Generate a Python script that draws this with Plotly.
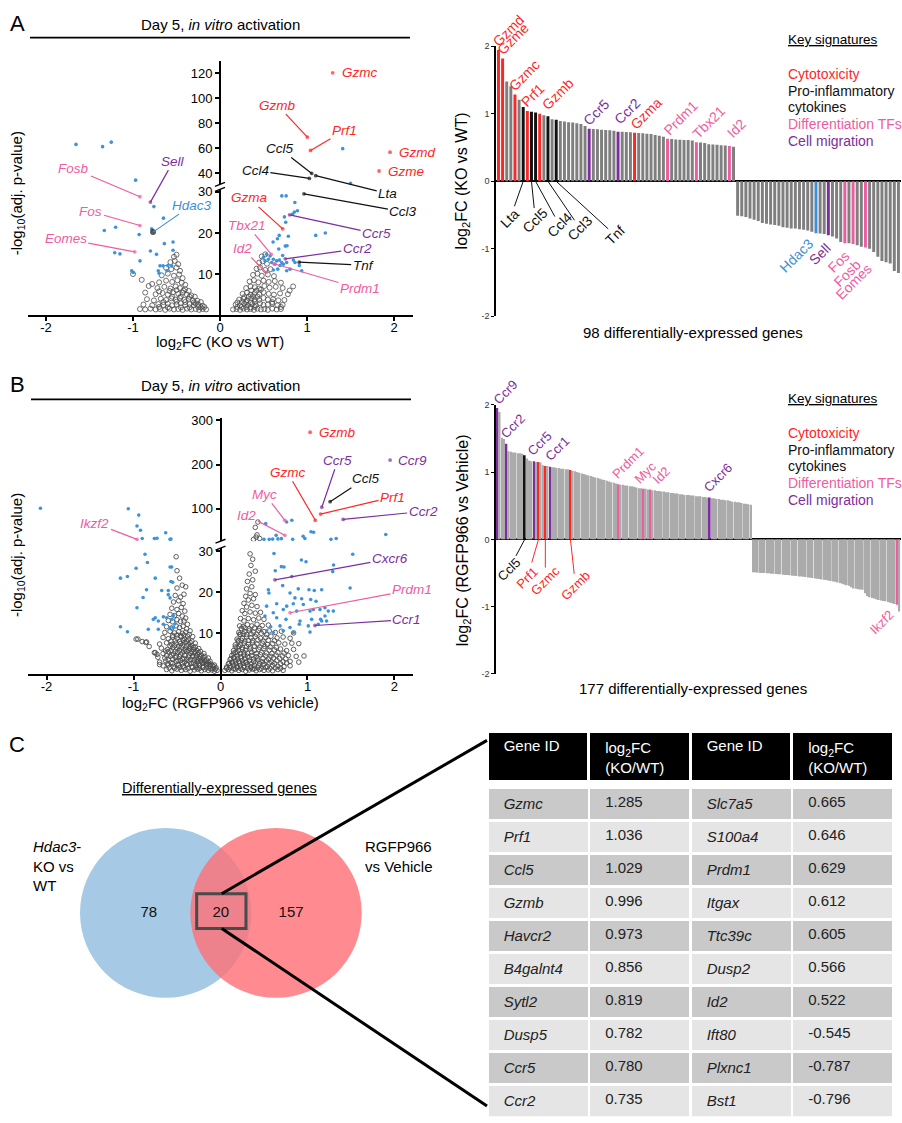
import plotly.graph_objects as go

W, H = 902, 1123
FONT = "Liberation Sans, Arial, Helvetica, sans-serif"

RED = "#ff2626"
PINK = "#ee5d9f"
PURPLE = "#7c2e9e"
BLUE = "#3f8fd6"
BLACK = "#111111"
SIG = "#3c93dc"
NS = "#4d4d4d"
CAT_COLOR = {"cyto": RED, "inflam": BLACK, "diff": PINK, "migr": PURPLE, "hdac": BLUE}

# ======================= DATA =======================
# ---- Panel A volcano (log2FC KO vs WT, -log10 adj p) ----
a_ns_x = [-0.92, -0.86, -0.80, -0.74, -0.69, -0.63, -0.58, -0.53, -0.48, -0.43, -0.38, -0.33, -0.28, -0.24, -0.20, -0.16,
          -0.88, -0.78, -0.71, -0.65, -0.60, -0.55, -0.50, -0.45, -0.40, -0.35, -0.30, -0.25, -0.20,
          -0.84, -0.76, -0.68, -0.62, -0.56, -0.51, -0.46, -0.41, -0.36, -0.31, -0.26, -0.22,
          -0.86, -0.74, -0.66, -0.60, -0.54, -0.48, -0.43, -0.38, -0.33, -0.29,
          -0.82, -0.72, -0.64, -0.57, -0.51, -0.46, -0.40, -0.36,
          -0.90, -0.70, -0.62, -0.55, -0.49, -0.44, -0.40,
          -1.00, -0.67, -0.60, -0.53, -0.47, -0.43,
          -0.62, -0.56, -0.50, -0.46,
          -0.57, -0.52, -0.48,
          -0.53, -0.50,
          -0.45, -0.35, -0.25, -0.30, -0.40, -0.50, -0.35, -0.45, -0.55, -0.28, -0.22, -0.18, -0.65, -0.70, -0.60,
          -0.42, -0.50, -0.58, -0.70, -0.78,
          0.15, 0.19, 0.23, 0.27, 0.31, 0.35, 0.39, 0.43, 0.47, 0.51, 0.55, 0.60, 0.65, 0.70,
          0.18, 0.23, 0.28, 0.32, 0.37, 0.41, 0.46, 0.50, 0.55, 0.60, 0.66, 0.72,
          0.22, 0.27, 0.31, 0.36, 0.40, 0.45, 0.50, 0.55, 0.61, 0.67, 0.74,
          0.26, 0.31, 0.35, 0.40, 0.45, 0.50, 0.56, 0.62, 0.69, 0.78,
          0.30, 0.35, 0.40, 0.45, 0.51, 0.57, 0.64, 0.72, 0.84,
          0.34, 0.39, 0.44, 0.50, 0.56, 0.63, 0.70,
          0.38, 0.43, 0.48, 0.55, 0.62,
          0.42, 0.46, 0.52, 0.58,
          0.45, 0.49, 0.54,
          0.48, 0.52,
          0.20, 0.25, 0.30, 0.35, 0.40, 0.30, 0.35, 0.25, 0.20, 0.40, 0.33, 0.38, 0.28, 0.43, 0.36, 0.42,
          0.47, 0.60, 0.70, 0.80]
a_ns_y = [1.5, 1.4, 1.6, 1.4, 1.5, 1.3, 1.6, 1.4, 1.5, 1.3, 1.6, 1.4, 1.5, 1.3, 1.5, 1.4,
          2.6, 2.4, 2.7, 2.5, 2.8, 2.4, 2.6, 2.9, 2.5, 2.7, 2.4, 2.6, 2.3,
          3.9, 3.6, 4.0, 3.7, 4.1, 3.8, 4.2, 3.7, 4.0, 3.6, 3.5, 3.2,
          5.5, 5.1, 5.4, 5.0, 5.6, 5.2, 5.5, 5.0, 4.8, 4.5,
          7.1, 6.6, 6.9, 6.5, 7.0, 6.6, 6.3, 5.9,
          8.6, 8.0, 8.4, 8.1, 8.5, 7.9, 7.4,
          10.0, 9.7, 10.1, 9.6, 9.9, 9.0,
          11.5, 11.2, 11.6, 10.8,
          12.9, 13.2, 12.4,
          14.2, 14.7,
          1.9, 1.9, 2.0, 3.1, 3.2, 3.3, 4.5, 4.6, 4.5, 2.9, 1.9, 2.0, 3.2, 2.0, 1.9,
          6.0, 6.1, 5.9, 5.8, 7.6,
          1.4, 1.5, 1.3, 1.6, 1.4, 1.5, 1.3, 1.6, 1.4, 1.5, 1.3, 1.6, 1.4, 1.5,
          2.6, 2.4, 2.8, 2.5, 2.7, 2.4, 2.9, 2.5, 2.6, 2.8, 2.4, 2.5,
          3.8, 4.0, 3.6, 4.1, 3.9, 3.7, 4.2, 3.8, 3.9, 3.6, 3.7,
          5.2, 5.5, 5.0, 5.4, 5.1, 5.6, 5.2, 5.0, 5.3, 5.1,
          6.6, 7.0, 6.8, 6.5, 7.1, 6.7, 6.9, 6.6, 7.0,
          8.2, 8.5, 8.0, 8.4, 8.1, 8.3, 7.9,
          9.8, 10.1, 9.6, 9.9, 9.5,
          11.3, 11.6, 11.0, 11.2,
          12.8, 13.1, 12.5,
          14.3, 14.8,
          2.0, 2.0, 2.0, 1.9, 2.0, 3.2, 3.1, 3.2, 3.1, 3.3, 4.5, 4.6, 4.4, 4.5, 6.0, 6.0,
          6.2, 3.2, 2.0, 6.0]

a_sig_x = [-1.655, -1.35, -1.25, -0.97, -0.76, -0.65, -0.785, -1.33, -1.20, -0.93, -0.64, -0.54, -0.54, -1.21, -1.15,
           -0.80, -0.73, -0.92, -0.69, -0.655, -0.60, -0.555, -1.015, -0.996, -0.71, -0.70, -0.61,
           1.41, 1.50, 0.71, 0.76, 0.86, 0.89, 0.855, 0.835, 0.74, 0.755, 0.68, 0.785, 1.21, 1.10, 0.61, 0.66, 0.75,
           0.77, 0.675, 0.536, 0.575, 0.498, 0.556, 0.517, 0.613, 0.651, 0.709, 0.728, 0.766, 0.843, 0.862, 0.912,
           0.939, 0.805, 0.766, 0.663, 0.613, 0.632, 0.69, 0.594, 0.72, 0.682]
a_sig_y = [63.2, 61.4, 65.0, 34.6, 26.4, 23.6, 21.0, 20.6, 21.4, 19.6, 17.4, 17.8, 15.8, 15.2, 14.9,
           15.6, 14.8, 13.2, 12.0, 12.0, 12.1, 12.0, 10.8, 10.4, 10.8, 10.2, 10.8,
           59.8, 32.0, 29.0, 29.0, 27.4, 25.4, 25.1, 24.6, 23.9, 22.6, 19.4, 19.2, 20.0, 19.4, 17.8, 18.6, 16.8,
           16.9, 16.1, 14.8, 14.4, 14.0, 13.6, 13.2, 13.6, 13.2, 12.8, 12.4, 12.8, 13.4, 12.8, 12.1,
           10.8, 11.2, 10.8, 11.2, 11.0, 12.4, 12.1, 12.8, 14.5, 13.4]

a_hl_gene = ["Gzmc", "Gzmb", "Prf1", "Gzmd", "Gzme", "Ccl5", "Ccl4", "Lta", "Ccl3", "Gzma", "Ccr5",
             "Tbx21", "Ccr2", "Id2", "Tnf", "Prdm1", "Fosb", "Sell", "Hdac3", "Fos", "Eomes"]
a_hl_x = [1.295, 1.004, 1.04, 1.954, 1.828, 1.054, 1.027, 1.10, 0.965, 0.72, 0.80,
          0.59, 0.75, 0.53, 0.91, 0.62, -0.92, -0.80, -0.77, -0.92, -0.98]
a_hl_y = [120.5, 69.0, 58.4, 57.0, 41.9, 40.0, 36.0, 38.2, 29.5, 21.0, 24.4,
          14.8, 13.7, 10.4, 12.9, 12.5, 28.8, 27.5, 20.2, 21.8, 15.4]
a_hl_cat = ["cyto", "cyto", "cyto", "cyto", "cyto", "inflam", "inflam", "inflam", "inflam", "cyto", "migr",
            "diff", "migr", "diff", "inflam", "diff", "diff", "migr", "hdac", "diff", "diff"]

# ---- Panel A bars (98 DE genes, log2FC KO vs WT) ----
a_bar_values = [1.95, 1.82, 1.48, 1.41, 1.285, 1.21, 1.10, 1.04, 1.03, 1.02, 1.00, 0.98, 0.965, 0.92, 0.91,
                0.895, 0.885, 0.875, 0.87, 0.86, 0.85, 0.82, 0.78, 0.775, 0.77, 0.765, 0.76, 0.755, 0.75,
                0.735, 0.735, 0.73, 0.725, 0.72, 0.715, 0.71, 0.705, 0.70, 0.685, 0.675, 0.66, 0.629, 0.625,
                0.62, 0.615, 0.612, 0.61, 0.605, 0.58, 0.575, 0.566, 0.55, 0.545, 0.54, 0.535, 0.53, 0.522, 0.51,
                -0.51, -0.52, -0.53, -0.55, -0.57, -0.59, -0.62, -0.63, -0.64, -0.65,
                -0.66, -0.68, -0.69, -0.70, -0.70, -0.71, -0.72, -0.73, -0.75, -0.77,
                -0.775, -0.78, -0.80, -0.82, -0.85, -0.90, -0.92, -0.92, -0.93, -0.95,
                -0.97, -0.98, -1.00, -1.05, -1.12, -1.18, -1.20, -1.22, -1.33, -1.36]
a_bar_label_idx = [0, 1, 4, 6, 7, 8, 9, 10, 12, 14, 22, 29, 33, 41, 48, 56, 77, 80, 84, 86, 89]
a_bar_label_gene = ["Gzmd", "Gzme", "Gzmc", "Lta", "Prf1", "Ccl5", "Ccl4", "Gzmb", "Ccl3", "Tnf", "Ccr5",
                    "Ccr2", "Gzma", "Prdm1", "Tbx21", "Id2", "Hdac3", "Sell", "Fos", "Fosb", "Eomes"]
a_bar_label_cat = ["cyto", "cyto", "cyto", "inflam", "cyto", "inflam", "inflam", "cyto", "inflam", "inflam", "migr",
                   "migr", "cyto", "diff", "diff", "diff", "hdac", "migr", "diff", "diff", "diff"]

# ---- Panel B volcano (log2FC RGFP966 vs vehicle) ----
b_ns_x = [-0.62, -0.56, -0.50, -0.45, -0.40, -0.35, -0.30, -0.26, -0.22, -0.18, -0.14, -0.10, -0.07, -0.04,
          -0.66, -0.60, -0.54, -0.48, -0.43, -0.38, -0.33, -0.28, -0.24, -0.20, -0.16, -0.12, -0.08, -0.05,
          -0.70, -0.63, -0.57, -0.51, -0.46, -0.41, -0.36, -0.31, -0.27, -0.23, -0.19, -0.15, -0.11, -0.07,
          -0.72, -0.64, -0.58, -0.52, -0.47, -0.42, -0.37, -0.32, -0.28, -0.24, -0.20, -0.16, -0.12,
          -0.76, -0.66, -0.60, -0.54, -0.49, -0.44, -0.39, -0.34, -0.30, -0.26, -0.22, -0.18, -0.14,
          -0.68, -0.61, -0.55, -0.50, -0.45, -0.40, -0.35, -0.31, -0.27, -0.23, -0.19,
          -0.86, -0.70, -0.62, -0.56, -0.51, -0.46, -0.41, -0.37, -0.33, -0.29, -0.25,
          -0.95, -0.66, -0.60, -0.55, -0.50, -0.45, -0.41, -0.37, -0.33, -0.29,
          -0.64, -0.58, -0.53, -0.48, -0.44, -0.40, -0.36, -0.32,
          -0.62, -0.56, -0.51, -0.47, -0.43, -0.39, -0.35,
          -0.60, -0.55, -0.50, -0.46, -0.42, -0.38,
          -0.58, -0.53, -0.48, -0.44, -0.40,
          -0.56, -0.50, -0.45, -0.41,
          -0.54, -0.48, -0.43,
          -0.52, -0.46, -0.42,
          -0.50, -0.44, -0.40,
          -0.47, -0.50, -0.51,
          -0.97, -0.90, -0.85, -0.75, -0.73, -0.82, -0.70,
          0.05, 0.09, 0.13, 0.17, 0.21, 0.25, 0.29, 0.33, 0.37, 0.41, 0.45, 0.50, 0.55, 0.60, 0.66, 0.72,
          0.07, 0.11, 0.15, 0.19, 0.23, 0.27, 0.31, 0.35, 0.39, 0.44, 0.49, 0.54, 0.60, 0.66, 0.73, 0.80,
          0.09, 0.13, 0.17, 0.21, 0.25, 0.29, 0.33, 0.38, 0.43, 0.48, 0.53, 0.59, 0.65, 0.72, 0.80, 0.90,
          0.11, 0.15, 0.19, 0.23, 0.27, 0.31, 0.36, 0.41, 0.46, 0.52, 0.58, 0.64, 0.71, 0.78, 0.87, 0.96,
          0.13, 0.17, 0.21, 0.25, 0.29, 0.34, 0.39, 0.44, 0.50, 0.56, 0.62, 0.69, 0.76, 0.84,
          0.15, 0.19, 0.23, 0.27, 0.32, 0.37, 0.42, 0.48, 0.54, 0.60, 0.67, 0.74, 0.82, 0.90,
          0.17, 0.21, 0.25, 0.30, 0.35, 0.40, 0.46, 0.52, 0.58, 0.65, 0.72, 0.80,
          0.19, 0.23, 0.28, 0.33, 0.38, 0.44, 0.50, 0.56, 0.63, 0.70, 0.84,
          0.21, 0.26, 0.31, 0.36, 0.42, 0.48, 0.55,
          0.22, 0.27, 0.32, 0.38, 0.44, 0.50,
          0.23, 0.28, 0.34, 0.40, 0.46,
          0.25, 0.30, 0.36, 0.42,
          0.27, 0.32, 0.38,
          0.29, 0.34, 0.40,
          0.30, 0.36,
          0.31, 0.37,
          0.33, 0.40,
          0.35, 0.37, 0.34,
          0.42, 0.41, 0.45, 0.38, 0.43, 0.40]
b_ns_y = [1.2, 0.9, 1.3, 1.0, 1.2, 0.8, 1.1, 1.3, 0.9, 1.2, 1.0, 1.1, 0.8, 1.0,
          2.1, 2.3, 1.9, 2.2, 2.0, 2.4, 1.9, 2.2, 2.1, 1.8, 2.3, 2.0, 1.9, 1.6,
          3.0, 3.3, 2.9, 3.2, 3.4, 3.0, 3.3, 2.8, 3.1, 3.2, 2.9, 2.7, 2.5, 2.3,
          4.2, 4.0, 4.4, 4.1, 4.3, 3.9, 4.2, 4.4, 4.0, 3.9, 3.7, 3.5, 3.2,
          5.3, 5.1, 5.5, 5.0, 5.4, 5.2, 5.6, 5.1, 5.3, 4.9, 4.7, 4.4, 4.0,
          6.4, 6.1, 6.5, 6.2, 6.6, 6.0, 6.3, 6.1, 5.8, 5.6, 5.1,
          7.8, 7.4, 7.7, 7.3, 7.6, 7.5, 7.8, 7.2, 7.0, 6.7, 6.3,
          8.6, 9.0, 8.7, 9.1, 8.8, 9.2, 8.6, 8.4, 8.1, 7.6,
          10.2, 10.5, 10.1, 10.4, 10.0, 10.3, 9.7, 9.2,
          11.6, 11.3, 11.8, 11.4, 11.7, 11.1, 10.6,
          13.1, 12.8, 13.3, 12.9, 13.0, 12.2,
          14.6, 14.3, 14.8, 14.2, 13.7,
          16.1, 15.8, 16.3, 15.4,
          17.6, 17.9, 17.2,
          19.2, 18.8, 19.5,
          21.0, 21.7, 21.3,
          23.4, 25.2, 28.6,
          8.6, 8.0, 7.9, 5.3, 4.9, 6.8, 2.4,
          1.0, 1.2, 0.9, 1.3, 1.0, 1.2, 0.8, 1.1, 1.3, 0.9, 1.2, 1.0, 1.1, 0.9, 1.2, 1.0,
          1.8, 2.1, 2.3, 1.9, 2.2, 2.0, 2.4, 1.9, 2.2, 2.1, 2.3, 1.9, 2.2, 2.0, 1.9, 2.1,
          2.6, 3.0, 3.3, 3.1, 3.4, 3.0, 3.3, 3.2, 3.5, 3.1, 3.3, 3.0, 3.4, 3.1, 3.2, 3.0,
          3.6, 4.1, 4.5, 4.3, 4.7, 4.4, 4.6, 4.3, 4.8, 4.5, 4.4, 4.7, 4.5, 4.6, 4.4, 4.5,
          4.6, 5.3, 5.8, 6.1, 5.9, 6.2, 5.8, 6.1, 6.3, 5.9, 6.0, 6.2, 5.8, 6.1,
          5.8, 6.6, 7.2, 7.6, 7.3, 7.7, 7.4, 7.6, 7.3, 7.5, 7.7, 7.4, 7.6, 7.5,
          7.2, 8.1, 8.8, 9.1, 8.9, 9.2, 8.8, 9.0, 9.3, 8.9, 9.1, 8.8,
          8.6, 9.7, 10.4, 10.6, 10.3, 10.7, 10.4, 10.6, 10.2, 10.5, 10.1,
          10.2, 11.6, 12.1, 11.8, 12.2, 11.9, 12.0,
          11.8, 13.0, 13.6, 13.3, 13.7, 13.4,
          13.6, 14.8, 15.2, 14.9, 15.1,
          15.5, 16.4, 16.8, 16.5,
          17.3, 18.1, 18.4,
          19.0, 19.7, 19.4,
          20.8, 21.3,
          22.6, 23.0,
          24.4, 25.1,
          26.5, 28.0, 29.3,
          41.0, 36.0, 33.0, 31.0, 70.0, 58.0]
# extra points in the dense cores of the two B clouds
b_core_x = [-0.59, -0.53, -0.47, -0.42, -0.37, -0.32, -0.28, -0.24, -0.20, -0.16, -0.12, -0.09, -0.06,
            -0.61, -0.55, -0.49, -0.44, -0.39, -0.34, -0.29, -0.25, -0.21, -0.17, -0.13, -0.09,
            -0.60, -0.55, -0.49, -0.44, -0.39, -0.34, -0.30, -0.26, -0.22, -0.18, -0.14,
            -0.62, -0.56, -0.51, -0.46, -0.41, -0.36, -0.32, -0.28, -0.24, -0.20,
            -0.63, -0.57, -0.52, -0.47, -0.42, -0.37, -0.33, -0.29, -0.25,
            -0.58, -0.53, -0.48, -0.43, -0.39, -0.35, -0.31,
            -0.57, -0.52, -0.47, -0.43, -0.39, -0.35,
            -0.55, -0.50, -0.46, -0.42, -0.38,
            0.07, 0.11, 0.15, 0.19, 0.23, 0.27, 0.31, 0.35, 0.39, 0.43, 0.47, 0.52, 0.57, 0.63, 0.69,
            0.10, 0.14, 0.18, 0.22, 0.26, 0.30, 0.35, 0.40, 0.45, 0.50, 0.56, 0.62, 0.69, 0.76,
            0.12, 0.16, 0.20, 0.24, 0.28, 0.33, 0.38, 0.43, 0.49, 0.55, 0.61, 0.68, 0.75,
            0.15, 0.19, 0.23, 0.27, 0.31, 0.36, 0.41, 0.47, 0.53, 0.59, 0.66, 0.73,
            0.17, 0.21, 0.25, 0.30, 0.34, 0.39, 0.45, 0.51, 0.57, 0.64,
            0.20, 0.24, 0.28, 0.32, 0.37, 0.43, 0.49, 0.55, 0.62,
            0.22, 0.26, 0.30, 0.35, 0.41, 0.47, 0.53,
            0.24, 0.28, 0.33, 0.39, 0.45]
b_core_y = [1.6, 1.5, 1.7, 1.6, 1.5, 1.7, 1.6, 1.5, 1.7, 1.6, 1.4, 1.5, 1.3,
            2.6, 2.7, 2.5, 2.8, 2.6, 2.7, 2.5, 2.6, 2.8, 2.5, 2.4, 2.2,
            3.6, 3.7, 3.5, 3.8, 3.6, 3.7, 3.5, 3.6, 3.4, 3.3, 3.0,
            4.6, 4.7, 4.5, 4.8, 4.6, 4.7, 4.5, 4.6, 4.4, 4.2,
            5.7, 5.8, 5.6, 5.9, 5.7, 5.8, 5.6, 5.5, 5.3,
            6.9, 7.0, 6.8, 7.1, 6.9, 6.8, 6.6,
            8.1, 8.2, 8.0, 8.3, 8.1, 7.8,
            9.5, 9.6, 9.4, 9.6, 9.3,
            1.5, 1.6, 1.4, 1.6, 1.5, 1.7, 1.5, 1.6, 1.4, 1.6, 1.5, 1.7, 1.5, 1.6, 1.5,
            2.7, 2.8, 2.6, 2.8, 2.7, 2.9, 2.6, 2.8, 2.7, 2.6, 2.8, 2.7, 2.6, 2.8,
            3.9, 4.0, 3.8, 4.0, 3.9, 4.1, 3.8, 4.0, 3.9, 3.8, 4.0, 3.9, 3.8,
            5.2, 5.3, 5.1, 5.3, 5.2, 5.4, 5.1, 5.3, 5.2, 5.1, 5.3, 5.2,
            6.7, 6.8, 6.6, 6.8, 6.7, 6.9, 6.6, 6.8, 6.7, 6.6,
            8.2, 8.3, 8.1, 8.3, 8.2, 8.4, 8.1, 8.3, 8.2,
            9.8, 9.9, 9.7, 9.9, 9.8, 10.0, 9.7,
            11.2, 11.3, 11.1, 11.3, 11.2]

b_sig_x = [-2.07, -1.06, -0.94, -0.96, -0.92, -0.90, -0.76, -0.73, -0.63, -0.58, -0.57,
           0.52, 0.64, 0.76, 0.82, 0.50, 0.56, 0.60, 0.66, 0.70, 0.83, 0.95, 0.97, 1.04, 1.07, 1.27, 1.33, 1.90,
           0.615, 0.70, 0.73, 0.63, 0.82, 0.715, 0.93, 0.983, 1.30, 1.29, 1.52, 1.49, 0.55, 0.557,
           0.894, 1.017, 1.078, 1.163, 0.799, 0.856, 0.933, 1.037, 1.098, 0.646, 0.761, 0.837, 0.952, 1.067,
           1.201, 1.297, 0.607, 0.722, 0.876, 1.029, 1.144, 1.239, 0.511, 0.646, 0.753, 0.914, 1.048, 1.151,
           1.201, 0.577, 0.684, 0.799, 0.906, 1.009, 1.124, 1.163, 1.22, 0.531, 0.607, 0.722, 0.837, 1.029, 0.53,
           -0.868, -0.84, -0.97, -1.15, -1.07, -0.75, -0.58, -0.561, -0.57, -0.55, -0.85, -0.676, -0.60, -0.89,
           -0.60, -0.58, -0.96, -0.75, -0.772, -0.715, -0.657, -0.618, -0.561, -0.542, -0.523, -0.58, -0.542,
           -0.657, -0.715, -0.83, -1.15, -1.07]
b_sig_y = [101.3, 100.0, 85.7, 61.0, 51.4, 32.8, 32.8, 33.5, 46.0, 31.0, 31.5,
           66.4, 40.0, 70.0, 74.0, 31.0, 31.0, 31.5, 32.0, 32.5, 31.0, 38.0, 33.0, 48.0, 47.0, 31.0, 33.0, 42.0,
           29.4, 26.2, 26.1, 25.2, 23.8, 21.6, 27.8, 27.4, 26.6, 25.0, 29.2, 21.0, 20.6, 19.8,
           20.8, 20.6, 20.4, 20.6, 19.8, 18.6, 18.4, 18.2, 17.8, 17.2, 16.6, 17.2, 17.0, 15.8,
           16.2, 15.4, 15.0, 15.8, 15.4, 15.4, 15.8, 15.4, 14.2, 13.8, 13.4, 13.0, 13.4, 13.4,
           14.2, 11.6, 11.8, 11.4, 12.2, 11.8, 12.2, 13.0, 13.0, 10.6, 10.2, 10.6, 10.2, 10.3, 16.6,
           29.2, 27.2, 25.8, 23.4, 23.8, 23.4, 26.1, 26.1, 22.6, 22.4, 20.6, 20.4, 20.4, 18.7,
           19.4, 18.6, 16.2, 13.8, 13.4, 13.0, 14.0, 13.8, 13.4, 14.3, 12.3, 11.4, 11.4,
           12.2, 11.0, 11.0, 11.6, 10.4]

b_hl_gene = ["Gzmb", "Ccr9", "Ccr5", "Ccl5", "Gzmc", "Prf1", "Ccr2", "Myc", "Id2", "Ikzf2", "Cxcr6", "Prdm1", "Ccr1"]
b_hl_x = [1.03, 1.95, 1.165, 1.26, 1.09, 1.15, 1.41, 0.74, 0.74, -0.96, 0.626, 0.80, 1.086]
b_hl_y = [273.0, 210.0, 103.6, 116.0, 74.0, 88.0, 76.0, 74.0, 40.0, 31.0, 23.0, 15.0, 11.9]
b_hl_cat = ["cyto", "migr", "migr", "inflam", "cyto", "cyto", "migr", "diff", "diff", "diff", "migr", "diff", "migr"]

# ---- Panel B bars (177 DE genes, log2FC RGFP966 vs vehicle) ----
b_bar_values = [1.95, 1.89, 1.51, 1.49, 1.42, 1.31, 1.30, 1.29, 1.29, 1.28, 1.28, 1.27, 1.25, 1.20, 1.17,
                1.16, 1.16, 1.15, 1.15, 1.14, 1.10, 1.09, 1.09, 1.08, 1.07, 1.07, 1.06, 1.06, 1.05, 1.05,
                1.04, 1.04, 1.03, 1.02, 1.01, 1.00, 0.99, 0.98, 0.97, 0.96, 0.95, 0.94, 0.93, 0.92, 0.91,
                0.90, 0.89, 0.88, 0.87, 0.86, 0.85, 0.84, 0.83, 0.82, 0.81, 0.81, 0.80, 0.80, 0.79, 0.79,
                0.78, 0.77, 0.76, 0.76, 0.75, 0.75, 0.74, 0.74, 0.73, 0.73, 0.72, 0.72, 0.71, 0.71, 0.70,
                0.70, 0.69, 0.69, 0.68, 0.68, 0.67, 0.67, 0.66, 0.66, 0.66, 0.65, 0.65, 0.64, 0.64, 0.64,
                0.63, 0.63, 0.62, 0.62, 0.61, 0.61, 0.60, 0.60, 0.59, 0.59, 0.58, 0.58, 0.57, 0.56, 0.56,
                0.55, 0.55, 0.54, 0.53, 0.53, 0.52, 0.515,
                -0.49, -0.49, -0.495, -0.50, -0.50, -0.50, -0.505, -0.505, -0.51, -0.51, -0.515, -0.52, -0.52,
                -0.525, -0.53, -0.53, -0.535, -0.54, -0.54, -0.545, -0.55, -0.55, -0.555, -0.56, -0.565, -0.57,
                -0.575, -0.58, -0.585, -0.59, -0.595, -0.60, -0.605, -0.61, -0.62, -0.625, -0.63, -0.64, -0.65,
                -0.66, -0.67, -0.68, -0.69, -0.71, -0.73, -0.735, -0.74, -0.745, -0.75, -0.80, -0.84, -0.86,
                -0.87, -0.88, -0.89, -0.90, -0.91, -0.915, -0.92, -0.93, -0.94, -0.95, -0.96, -0.97, -1.07]
b_bar_label_idx = [0, 4, 12, 16, 18, 21, 23, 32, 53, 64, 67, 93, 175]
b_bar_label_gene = ["Ccr9", "Ccr2", "Ccl5", "Ccr5", "Prf1", "Gzmc", "Ccr1", "Gzmb", "Prdm1", "Myc", "Id2", "Cxcr6", "Ikzf2"]
b_bar_label_cat = ["migr", "migr", "inflam", "migr", "cyto", "cyto", "migr", "cyto", "diff", "diff", "diff", "migr", "diff"]

# ---- Panel C ----
venn_counts = [78, 20, 157]
tbl_gene_l = ["Gzmc", "Prf1", "Ccl5", "Gzmb", "Havcr2", "B4galnt4", "Sytl2", "Dusp5", "Ccr5", "Ccr2"]
tbl_fc_l = [1.285, 1.036, 1.029, 0.996, 0.973, 0.856, 0.819, 0.782, 0.780, 0.735]
tbl_gene_r = ["Slc7a5", "S100a4", "Prdm1", "Itgax", "Ttc39c", "Dusp2", "Id2", "Ift80", "Plxnc1", "Bst1"]
tbl_fc_r = [0.665, 0.646, 0.629, 0.612, 0.605, 0.566, 0.522, -0.545, -0.787, -0.796]

legend_items = [("Cytotoxicity", "cyto"), ("Pro-inflammatory", "inflam"), ("cytokines", "inflam"),
                ("Differentiation TFs", "diff"), ("Cell migration", "migr")]

# ======================= LABEL LAYOUT (styling) =======================
a_vlab = {"Gzmc": ("side", 7, 0), "Gzmb": ("arrow", -30, -32), "Prf1": ("arrow", 34, -20),
          "Gzmd": ("side", 7, 0), "Gzme": ("side", 7, 0), "Ccl5": ("arrow", -32, -25),
          "Ccl4": ("arrow", -54, -8), "Lta": ("arrow", 72, 18), "Ccl3": ("arrow", 99, 18),
          "Gzma": ("arrow", -34, -31), "Ccr5": ("arrow", 87, 19), "Tbx21": ("arrow", -24, -29),
          "Ccr2": ("arrow", 72, -10), "Id2": ("arrow", -24, -24), "Tnf": ("arrow", 64, 3),
          "Prdm1": ("arrow", 86, 25), "Fosb": ("arrow", -66, -28), "Sell": ("arrow", 23, -41),
          "Hdac3": ("arrow", 39, -27), "Fos": ("arrow", -49, -14), "Eomes": ("arrow", -69, -13)}
b_vlab = {"Gzmb": ("side", 7, 0), "Ccr9": ("side", 6, 0), "Ccr5": ("arrow", 16, -47),
          "Ccl5": ("arrow", 35, -23), "Gzmc": ("arrow", -28, -48), "Prf1": ("arrow", 72, -17),
          "Ccr2": ("arrow", 80, -8), "Myc": ("arrow", -20, -26), "Id2": ("arrow", -38, -20),
          "Ikzf2": ("arrow", -42, -16), "Cxcr6": ("arrow", 115, -21), "Prdm1": ("arrow", 122, -23),
          "Ccr1": ("arrow", 92, -6)}
a_blab = {"Gzmd": ("up", 0, -3), "Gzme": ("up", 0, -2), "Gzmc": ("up", 0, -2), "Prf1": ("up", 0, -2),
          "Gzmb": ("up", 8, -2), "Ccr5": ("up", 0, -2), "Ccr2": ("up", 2, 2), "Gzma": ("up", 2, -2),
          "Prdm1": ("up", 2, -2), "Tbx21": ("up", 2, -2), "Id2": ("up", 4, 2),
          "Lta": ("lead", -13, 37), "Ccl5": ("lead", 4, 39), "Ccl4": ("lead", 24, 44),
          "Ccl3": ("lead", 32, 47), "Tnf": ("lead", 59, 54),
          "Hdac3": ("down", 4, 1), "Sell": ("down", 8, -2), "Fos": ("down", 10, -2),
          "Fosb": ("down", 14, -10), "Eomes": ("down", 13, -10)}
b_blab = {"Ccr9": ("up", 2, -2), "Ccr2": ("up", 0, 0), "Ccr5": ("up", 0, 0), "Ccr1": ("up", 2, 0),
          "Prdm1": ("up", 0, 0), "Myc": ("up", -3, 0), "Id2": ("up", 8, 0), "Cxcr6": ("up", 0, 0),
          "Ccl5": ("lead", -16, 30), "Prf1": ("lead", -11, 38), "Gzmc": ("lead", 0, 41),
          "Gzmb": ("lead", 5, 46), "Ikzf2": ("down", 2, 0)}


def PX(p):
    return p / W


def PY(p):
    return 1 - p / H


fig = go.Figure()
annotations = []
shapes = []


def volcano(xa, ylo, yhi, split, ns_x, ns_y, sig_x, sig_y, g, hx, hy, hc, lab, ns_size, ns_lw):
    for yname, up in ((ylo, False), (yhi, True)):
        sel = [i for i, v in enumerate(ns_y) if (v > split) == up]
        fig.add_trace(go.Scatter(x=[ns_x[i] for i in sel], y=[ns_y[i] for i in sel], xaxis=xa, yaxis=yname,
                                 mode="markers", hoverinfo="skip",
                                 marker=dict(symbol="circle-open", size=ns_size, color=NS, line=dict(width=ns_lw))))
        sel = [i for i, v in enumerate(sig_y) if (v > split) == up]
        fig.add_trace(go.Scatter(x=[sig_x[i] for i in sel], y=[sig_y[i] for i in sel], xaxis=xa, yaxis=yname,
                                 mode="markers", hoverinfo="skip",
                                 marker=dict(symbol="circle", size=3.6, color=SIG, line=dict(width=0))))
        sel = [i for i, v in enumerate(hy) if (v > split) == up]
        cols = [BLACK if hc[i] == "hdac" else CAT_COLOR[hc[i]] for i in sel]
        sizes = [6 if hc[i] == "hdac" else 3.8 for i in sel]
        fig.add_trace(go.Scatter(x=[hx[i] for i in sel], y=[hy[i] for i in sel], xaxis=xa, yaxis=yname,
                                 mode="markers", hoverinfo="skip",
                                 marker=dict(symbol="circle", size=sizes, color=cols, line=dict(width=0))))
    for i, gene in enumerate(g):
        col = CAT_COLOR[hc[i]]
        mode, dx, dy = lab[gene]
        yname = yhi if hy[i] > split else ylo
        a = dict(x=hx[i], y=hy[i], xref=xa, yref=yname, text="<i>%s</i>" % gene,
                 font=dict(size=13.5, color=col, family=FONT))
        if mode == "side":
            a.update(showarrow=False, xanchor="left", yanchor="middle", xshift=dx, yshift=dy)
        else:
            a.update(showarrow=True, ax=dx, ay=dy, arrowhead=0, arrowwidth=1.2, arrowcolor=col, standoff=0)
        annotations.append(a)


def bars(xa, ya, values, idx, genes, cats, gray, width, lab, fsize):
    n = len(values)
    colors = [gray] * n
    for i, c in zip(idx, cats):
        colors[i] = CAT_COLOR[c]
    fig.add_trace(go.Bar(x=list(range(n)), y=values, xaxis=xa, yaxis=ya, width=width, hoverinfo="skip",
                         marker=dict(color=colors, line=dict(width=0))))
    for i, gene, c in zip(idx, genes, cats):
        col = CAT_COLOR[c]
        mode, dx, dy = lab[gene]
        a = dict(xref=xa, yref=ya, text=gene, textangle=-45, font=dict(size=fsize, color=col, family=FONT))
        if mode == "up":
            a.update(x=i, y=values[i], showarrow=False, xanchor="left", yanchor="bottom", xshift=-12 + dx, yshift=dy)
        elif mode == "down":
            a.update(x=i, y=values[i], showarrow=False, xanchor="right", yanchor="top", xshift=dx, yshift=dy)
        else:
            a.update(x=i, y=0, showarrow=True, ax=dx, ay=dy, arrowhead=0, arrowwidth=1, arrowcolor=col, standoff=0)
        annotations.append(a)


volcano("x", "y", "y2", 30.9, a_ns_x, a_ns_y, a_sig_x, a_sig_y, a_hl_gene, a_hl_x, a_hl_y, a_hl_cat, a_vlab, 5, 0.8)
volcano("x4", "y4", "y5", 29.9, b_ns_x + b_core_x, b_ns_y + b_core_y, b_sig_x, b_sig_y,
        b_hl_gene, b_hl_x, b_hl_y, b_hl_cat, b_vlab, 4.6, 0.9)
bars("x3", "y3", a_bar_values, a_bar_label_idx, a_bar_label_gene, a_bar_label_cat, "#7f7f7f", 0.72, a_blab, 14)
bars("x6", "y6", b_bar_values, b_bar_label_idx, b_bar_label_gene, b_bar_label_cat, "#ababab", 0.74, b_blab, 13)

# ---- Venn (units: circle radius = 1) ----
d_centers = 1.287
venn_label_x = [-0.84, 0.0, 0.82]
fig.add_trace(go.Scatter(x=venn_label_x, y=[0, 0, 0], xaxis="x7", yaxis="y7", mode="text",
                         text=[str(v) for v in venn_counts], textfont=dict(size=15, color="#111", family=FONT),
                         hoverinfo="skip"))
shapes.append(dict(type="circle", xref="x7", yref="y7", x0=-d_centers / 2 - 1, x1=-d_centers / 2 + 1, y0=-1, y1=1,
                   fillcolor="rgb(166,202,230)", line=dict(width=0), layer="below"))
shapes.append(dict(type="circle", xref="x7", yref="y7", x0=d_centers / 2 - 1, x1=d_centers / 2 + 1, y0=-1, y1=1,
                   fillcolor="rgba(255,110,117,0.80)", line=dict(width=0), layer="below"))
shapes.append(dict(type="rect", xref="x7", yref="y7", x0=-0.282, x1=0.293, y0=-0.184, y1=0.225,
                   line=dict(color="#4a4a4a", width=3), fillcolor="rgba(0,0,0,0)"))
shapes.append(dict(type="line", xref="paper", yref="paper", x0=PX(221.7), y0=PY(896.7), x1=PX(487), y1=PY(742),
                   line=dict(color="black", width=3)))
shapes.append(dict(type="line", xref="paper", yref="paper", x0=PX(221.7), y0=PY(931.7), x1=PX(487), y1=PY(1111),
                   line=dict(color="black", width=3)))

# ---- Table ----
NB = "\u00a0\u00a0"
hdr_fc = "log<sub>2</sub>FC<br>" + NB + "(KO/WT)"
row_fill = ["#c9c9c9" if r % 2 == 0 else "#e5e5e5" for r in range(len(tbl_gene_l))]
fig.add_trace(go.Table(
    domain=dict(x=[PX(487.3), PX(894)], y=[PY(1122), PY(733)]), columnwidth=[1, 1, 1, 1],
    header=dict(values=[NB + "Gene ID", NB + hdr_fc, NB + "Gene ID", NB + hdr_fc],
                fill_color="black", line=dict(color="white", width=3), align="left", height=56,
                font=dict(color="white", size=15, family=FONT)),
    cells=dict(values=[[NB + "<i>%s</i>" % g for g in tbl_gene_l],
                       [NB + "%.3f" % v for v in tbl_fc_l],
                       [NB + "<i>%s</i>" % g for g in tbl_gene_r],
                       [NB + "%.3f" % v for v in tbl_fc_r]],
               fill_color=[row_fill] * 4, line=dict(color="white", width=2.5), align="left",
               height=33, font=dict(color="#222", size=15, family=FONT))))
# white gap between the header block and the body
shapes.append(dict(type="rect", xref="paper", yref="paper", x0=PX(484), x1=PX(898), y0=PY(789), y1=PY(782),
                   fillcolor="white", line=dict(width=0), layer="above"))


# ---- text annotations (paper) ----
def txt(x, y, s, size=15, color="black", xanchor="center", yanchor="middle", angle=0, align="center"):
    annotations.append(dict(x=PX(x), y=PY(y), xref="paper", yref="paper", text=s, showarrow=False,
                            xanchor=xanchor, yanchor=yanchor, textangle=angle, align=align,
                            font=dict(size=size, color=color, family=FONT)))


txt(17, 19, "A", 22)
txt(17, 383, "B", 22)
txt(17, 746, "C", 22)
for yy in (20, 384):
    txt(220, yy, "Day 5, <i>in vitro</i> activation", 15)
shapes.append(dict(type="line", xref="paper", yref="paper", x0=PX(30), x1=PX(410), y0=PY(33), y1=PY(33),
                   line=dict(color="black", width=1.8)))
shapes.append(dict(type="line", xref="paper", yref="paper", x0=PX(31), x1=PX(411), y0=PY(398), y1=PY(398),
                   line=dict(color="black", width=1.8)))
txt(17, 190, "-log<sub>10</sub>(adj. p-value)", 15, angle=-90)
txt(17, 555, "-log<sub>10</sub>(adj. p-value)", 15, angle=-90)
txt(220, 341, "log<sub>2</sub>FC (KO vs WT)", 15)
txt(220, 705, "log<sub>2</sub>FC (RGFP966 vs vehicle)", 15)
txt(462, 178, "log<sub>2</sub>FC (KO vs WT)", 16, angle=-90)
txt(463, 540, "log<sub>2</sub>FC (RGFP966 vs Vehicle)", 16, angle=-90)
txt(693, 330, "98 differentially-expressed genes", 15)
txt(693, 690, "177 differentially-expressed genes", 15)
for base in (35, 397):
    txt(786, base, "<u>Key signatures</u>", 13.5, xanchor="left")
    for k, (s, c) in enumerate(legend_items):
        yoff = [35, 52, 68, 85, 102][k]
        txt(786, base + yoff, s, 14, color=CAT_COLOR[c], xanchor="left")
txt(219, 790, "<u>Differentially-expressed genes</u>", 14.5)
txt(31, 838, "<i>Hdac3</i>-<br>KO vs<br>WT", 15, xanchor="left", yanchor="top", align="left")
txt(363, 838, "RGFP966<br>vs Vehicle", 15, xanchor="left", yanchor="top", align="left")

# break marks on broken y axes
for (xc, y1, y2) in ((220, 181, 186), (220.5, 541, 548)):
    for yy in (y1, y2):
        shapes.append(dict(type="line", xref="paper", yref="paper", x0=PX(xc - 5), x1=PX(xc + 5),
                           y0=PY(yy + 2), y1=PY(yy - 2), line=dict(color="black", width=1.5)))

# ======================= AXES =======================
vax = dict(showline=True, linecolor="black", linewidth=2, ticks="outside", ticklen=4, tickwidth=1.5,
           tickcolor="black", showgrid=False, zeroline=False, tickfont=dict(size=13, color="black", family=FONT))
bax = dict(showline=True, linecolor="black", linewidth=1.5, ticks="outside", ticklen=3, tickwidth=1,
           tickcolor="black", showgrid=False, zeroline=True, zerolinecolor="black", zerolinewidth=1.5,
           tickvals=[-2, -1, 0, 1, 2], ticktext=["-2", "-1", "0", "1", "2"],
           tickfont=dict(size=9, color="#333", family=FONT))
xt = dict(tickvals=[-2, -1, 0, 1, 2], ticktext=["-2", "-1", "0", "1", "2"], ticklabelstandoff=-5)

layout = dict(
    width=W, height=H, margin=dict(l=0, r=0, t=0, b=0), paper_bgcolor="white", plot_bgcolor="white",
    showlegend=False, font=dict(family=FONT, size=13, color="black"),
    xaxis=dict(domain=[PX(28), PX(413)], range=[-2.207, 2.218], anchor="y", **xt, **vax),
    yaxis=dict(domain=[PY(313), PY(186)], range=[0, 30.6], anchor="free", position=PX(220),
               tickvals=[10, 20, 30], **vax),
    yaxis2=dict(domain=[PY(181), PY(57)], range=[31.2, 129.6], anchor="free", position=PX(220),
                tickvals=[40, 60, 80, 100, 120], **vax),
    xaxis3=dict(domain=[PX(496), PX(900.5)], range=[-0.6, 97.5], anchor="y3", visible=False),
    yaxis3=dict(domain=[PY(314), PY(41.7)], range=[-2, 2], anchor="x3", **bax),
    xaxis4=dict(domain=[PX(28), PX(413)], range=[-2.213, 2.213], anchor="y4", **xt, **vax),
    yaxis4=dict(domain=[PY(675.5), PY(548)], range=[0, 30.7], anchor="free", position=PX(220.5),
                tickvals=[10, 20, 30], **vax),
    yaxis5=dict(domain=[PY(541), PY(417)], range=[26.8, 304.5], anchor="free", position=PX(220.5),
                tickvals=[100, 200, 300], **vax),
    xaxis6=dict(domain=[PX(496), PX(900.5)], range=[-0.6, 176.5], anchor="y6", visible=False),
    yaxis6=dict(domain=[PY(675), PY(403.3)], range=[-2, 2], anchor="x6", **bax),
    xaxis7=dict(domain=[0, PX(470)], range=[-2.577, 2.907], anchor="y7", visible=False),
    yaxis7=dict(domain=[0, PY(740)], range=[-2.415, 2.054], anchor="x7", visible=False),
    annotations=annotations, shapes=shapes,
)
fig.update_layout(**layout)
fig.write_html("out.html", config={"displayModeBar": False},
               post_script="document.body.style.margin='0px';")
